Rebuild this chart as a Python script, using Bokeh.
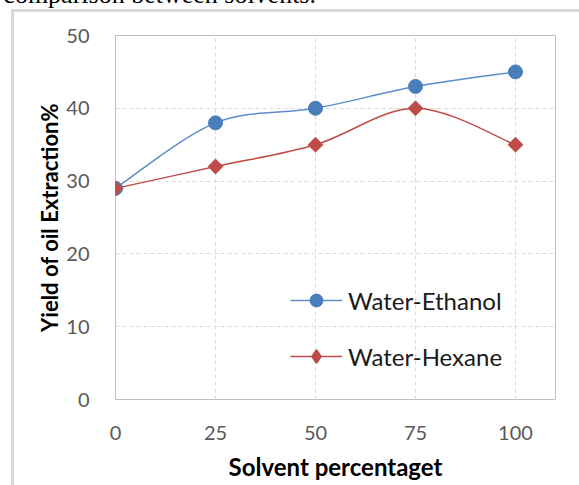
import math
from bokeh.plotting import figure
from bokeh.layouts import column
from bokeh.models import (Range1d, FixedTicker, Legend, LegendItem, Div,
                          ColumnDataSource)
from bokeh.embed import file_html
from bokeh.resources import INLINE

# Solvent percentage and oil yield (%) for the two solvent systems
solvent_pct = [0, 25, 50, 75, 100]
water_ethanol = [29, 38, 40, 43, 45]
water_hexane = [29, 32, 35, 40, 35]

x_ticks = [0, 25, 50, 75, 100]
y_ticks = [0, 10, 20, 30, 40, 50]

BLUE = "#4a7ebb"
BLUE_LINE = "#5b8ccc"
RED = "#be4b48"
FONT = "Lato"


def smooth_segments(xs, ys):
    """Cubic Bezier segments (Catmull-Rom style) through the given points."""
    n = len(xs)
    seg = dict(x0=[], y0=[], x1=[], y1=[], cx0=[], cy0=[], cx1=[], cy1=[])
    for i in range(n - 1):
        p = max(i - 1, 0)
        q = min(i + 2, n - 1)
        seg["x0"].append(xs[i]); seg["y0"].append(ys[i])
        seg["x1"].append(xs[i + 1]); seg["y1"].append(ys[i + 1])
        seg["cx0"].append(xs[i] + (xs[i + 1] - xs[p]) / 6)
        seg["cy0"].append(ys[i] + (ys[i + 1] - ys[p]) / 6)
        seg["cx1"].append(xs[i + 1] - (xs[q] - xs[i]) / 6)
        seg["cy1"].append(ys[i + 1] - (ys[q] - ys[i]) / 6)
    return ColumnDataSource(seg)


p = figure(width=565, height=473, output_backend="svg", toolbar_location=None,
           x_range=Range1d(0, 110), y_range=Range1d(0, 50),
           min_border_left=101, min_border_right=24,
           min_border_top=23, min_border_bottom=86,
           margin=(0, 0, 0, 14))
p.styles = {"outline": "3px solid #d9d9d9"}
p.background_fill_color = "white"
p.border_fill_color = "white"
p.outline_line_color = "#bfbfbf"
p.outline_line_width = 1

# grid
for g in (p.xgrid, p.ygrid):
    g.grid_line_color = "#d9d9d9"
    g.grid_line_dash = "4 3"
    g.grid_line_width = 1
p.xgrid.ticker = FixedTicker(ticks=x_ticks)
p.ygrid.ticker = FixedTicker(ticks=y_ticks)

# axes
p.xaxis.ticker = FixedTicker(ticks=x_ticks)
p.yaxis.ticker = FixedTicker(ticks=y_ticks)
for ax in (p.xaxis, p.yaxis):
    ax.axis_line_color = None
    ax.major_tick_line_color = None
    ax.minor_tick_line_color = None
    ax.major_label_text_font = FONT
    ax.major_label_text_font_size = "20px"
    ax.major_label_text_color = "#595959"
    ax.axis_label_text_font = FONT
    ax.axis_label_text_font_style = "bold"
    ax.axis_label_text_color = "black"
p.xaxis.axis_label = "Solvent percentaget"
p.yaxis.axis_label = "Yield of oil Extraction%"
p.xaxis.axis_label_text_font_size = "24px"
p.yaxis.axis_label_text_font_size = "22px"
p.xaxis.major_label_standoff = 20
p.yaxis.major_label_standoff = 20
p.xaxis.axis_label_standoff = 9
p.yaxis.axis_label_standoff = 0

# smoothed series lines with markers
eth_curve = p.bezier(x0="x0", y0="y0", x1="x1", y1="y1", cx0="cx0", cy0="cy0",
                     cx1="cx1", cy1="cy1", source=smooth_segments(solvent_pct, water_ethanol),
                     line_color=BLUE_LINE, line_width=1.5)
hex_curve = p.bezier(x0="x0", y0="y0", x1="x1", y1="y1", cx0="cx0", cy0="cy0",
                     cx1="cx1", cy1="cy1", source=smooth_segments(solvent_pct, water_hexane),
                     line_color=RED, line_width=1.5)
eth_pts = p.scatter(solvent_pct, water_ethanol, marker="circle", size=14,
                    fill_color=BLUE, line_color=BLUE)
# diamond key for the legend, drawn beneath the rotated squares below
hex_key = p.scatter(solvent_pct, water_hexane, marker="diamond", size=8,
                    fill_color=RED, line_color=RED, line_width=2)
hex_pts = p.scatter(solvent_pct, water_hexane, marker="square", size=10.5,
                    angle=math.pi / 4, fill_color=RED, line_color=RED)

legend = Legend(items=[LegendItem(label="Water-Ethanol", renderers=[eth_curve, eth_pts]),
                       LegendItem(label="Water-Hexane", renderers=[hex_curve, hex_key])],
                location=(175, 27), orientation="vertical",
                glyph_width=52, glyph_height=32, label_height=32, spacing=24,
                padding=0, margin=0, label_standoff=6,
                label_text_font=FONT, label_text_font_size="24px",
                label_text_color="#1a1a1a",
                background_fill_alpha=0, border_line_color=None)
p.add_layout(legend, "center")

# end of the surrounding caption line, mostly scrolled out above
caption = Div(
    text='<span style="position:absolute; right:263px; top:-20px; '
         'font-family:\'Liberation Serif\'; font-size:26px; line-height:30px; '
         'white-space:nowrap; color:black">comparison between solvents.</span>',
    width=579, height=12, margin=0,
    styles={"overflow": "hidden", "position": "relative"})

layout = column(caption, p, spacing=0)
open("out.html", "w").write(file_html(layout, INLINE))
